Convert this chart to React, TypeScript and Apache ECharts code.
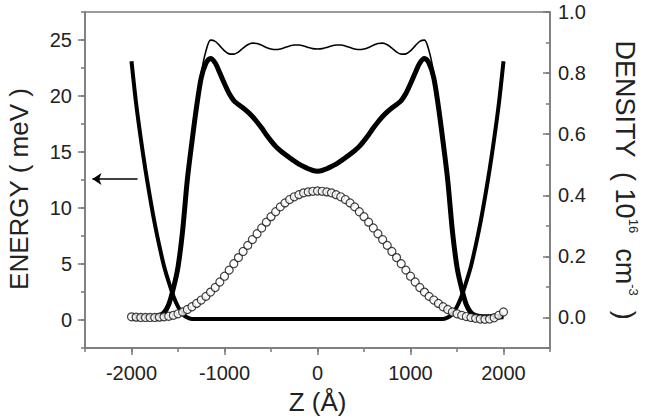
import React, { useEffect, useRef } from 'react';
import * as echarts from 'echarts';

// Z positions (Å) of the sampled points
const zGrid = [
  -2000, -1950, -1900, -1850, -1800, -1750, -1700, -1650, -1600, -1550,
  -1500, -1450, -1400, -1350, -1300, -1250, -1200, -1150, -1100, -1050,
  -1000, -950, -900, -850, -800, -750, -700, -650, -600, -550,
  -500, -450, -400, -350, -300, -250, -200, -150, -100, -50,
  0,
  50, 100, 150, 200, 250, 300, 350, 400, 450, 500,
  550, 600, 650, 700, 750, 800, 850, 900, 950, 1000,
  1050, 1100, 1150, 1200, 1250, 1300, 1350, 1400, 1450, 1500,
  1550, 1600, 1650, 1700, 1750, 1800, 1850, 1900, 1950, 2000,
];

// Open circles (density axis)
const nCircle = [
  0.002, 0.001, 0.0, 0.0, 0.0, 0.0, 0.001, 0.002, 0.004, 0.007,
  0.012, 0.018, 0.026, 0.035, 0.046, 0.057, 0.069, 0.083, 0.098, 0.116,
  0.135, 0.155, 0.176, 0.196, 0.216, 0.236, 0.255, 0.274, 0.293, 0.312,
  0.330, 0.346, 0.362, 0.375, 0.386, 0.395, 0.402, 0.408, 0.411, 0.413,
  0.414,
  0.413, 0.411, 0.408, 0.402, 0.395, 0.386, 0.375, 0.362, 0.346, 0.330,
  0.312, 0.293, 0.274, 0.255, 0.236, 0.216, 0.196, 0.176, 0.155, 0.135,
  0.116, 0.098, 0.083, 0.069, 0.057, 0.046, 0.035, 0.026, 0.018, 0.012,
  0.007, 0.003, 0.0, -0.003, -0.005, -0.006, -0.005, -0.001, 0.007, 0.018,
];

// Thick density curve (density axis)
const nThick = [
  0.002, 0.002, 0.002, 0.002, 0.002, 0.003, 0.006, 0.016, 0.042, 0.095,
  0.165, 0.285, 0.45, 0.575, 0.69, 0.785, 0.832, 0.848, 0.833, 0.80,
  0.765, 0.733, 0.71, 0.697, 0.686, 0.673, 0.658, 0.64, 0.62, 0.598,
  0.578, 0.56, 0.546, 0.534, 0.523, 0.512, 0.502, 0.494, 0.487, 0.481,
  0.479,
  0.481, 0.487, 0.494, 0.502, 0.512, 0.523, 0.534, 0.546, 0.56, 0.578,
  0.598, 0.62, 0.64, 0.658, 0.673, 0.686, 0.697, 0.71, 0.733, 0.765,
  0.80, 0.833, 0.848, 0.832, 0.785, 0.69, 0.575, 0.45, 0.285, 0.165,
  0.095, 0.042, 0.016, 0.006, 0.003, 0.002, 0.002, 0.002, 0.002, 0.002,
];

// Thin density curve (density axis)
const nThin = [
  0.002, 0.002, 0.002, 0.002, 0.002, 0.003, 0.006, 0.016, 0.042, 0.095,
  0.165, 0.285, 0.45, 0.575, 0.69, 0.80, 0.872, 0.908, 0.904, 0.889,
  0.873, 0.863, 0.862, 0.869, 0.882, 0.893, 0.898, 0.897, 0.891, 0.884,
  0.879, 0.877, 0.879, 0.884, 0.889, 0.892, 0.892, 0.889, 0.884, 0.880,
  0.879,
  0.880, 0.884, 0.889, 0.892, 0.892, 0.889, 0.884, 0.879, 0.877, 0.879,
  0.884, 0.891, 0.897, 0.898, 0.893, 0.882, 0.869, 0.862, 0.863, 0.873,
  0.889, 0.904, 0.908, 0.872, 0.80, 0.69, 0.575, 0.45, 0.285, 0.165,
  0.095, 0.042, 0.016, 0.006, 0.003, 0.002, 0.002, 0.002, 0.002, 0.002,
];

// Confining potential (energy axis, meV)
const ePotential = [
  23.1, 19.3, 16.2, 13.4, 10.9, 8.6, 6.6, 4.8, 3.4, 2.15,
  1.2, 0.55, 0.22, 0.1, 0.1, 0.1, 0.1, 0.1, 0.1, 0.1,
  0.1, 0.1, 0.1, 0.1, 0.1, 0.1, 0.1, 0.1, 0.1, 0.1,
  0.1, 0.1, 0.1, 0.1, 0.1, 0.1, 0.1, 0.1, 0.1, 0.1,
  0.1,
  0.1, 0.1, 0.1, 0.1, 0.1, 0.1, 0.1, 0.1, 0.1, 0.1,
  0.1, 0.1, 0.1, 0.1, 0.1, 0.1, 0.1, 0.1, 0.1, 0.1,
  0.1, 0.1, 0.1, 0.1, 0.1, 0.1, 0.1, 0.22, 0.55, 1.2,
  2.15, 3.4, 4.8, 6.6, 8.6, 10.9, 13.4, 16.2, 19.3, 23.1,
];

// Arrow marking the level on the energy axis
const arrowZ = [-1935, -2420];
const arrowE = [12.6, 12.6];

// Tick values
const zTicks = [-2000, -1000, 0, 1000, 2000];
const energyTicks = [0, 5, 10, 15, 20, 25];
const densityTicks = [0, 0.2, 0.4, 0.6, 0.8, 1.0];

const FONT = '"Liberation Sans", Arial, Helvetica, sans-serif';
const AXIS_COLOR = '#7a7a7a';
const LABEL_COLOR = '#222';

export default function App() {
  const ref = useRef<HTMLDivElement>(null);

  useEffect(() => {
    document.body.style.margin = '0';
    if (!ref.current) return;
    const chart = echarts.init(ref.current, undefined, { renderer: 'svg' });

    const pairs = (ys: number[]) => zGrid.map((z, i) => [z, ys[i]]);
    const lineAxis = { show: true, onZero: false, lineStyle: { color: AXIS_COLOR, width: 1.5 } };
    const noLine = { show: false, onZero: false };
    const tickStyle = { color: AXIS_COLOR, width: 1.5 };

    const option: any = {
      animation: false,
      backgroundColor: '#fff',
      textStyle: { fontFamily: FONT },
      grid: {
        left: 85,
        top: 12,
        width: 465,
        height: 336,
        show: true,
        borderColor: AXIS_COLOR,
        borderWidth: 1.5,
        backgroundColor: 'transparent',
        outerBoundsMode: 'none',
      },
      xAxis: [
        {
          type: 'value',
          min: -2500,
          max: 2500,
          position: 'bottom',
          axisLine: lineAxis,
          axisTick: { show: true, customValues: zTicks, length: 7, inside: false, lineStyle: tickStyle },
          axisLabel: {
            customValues: zTicks,
            fontSize: 20,
            color: LABEL_COLOR,
            margin: 15,
            fontFamily: FONT,
            formatter: (v: number) => String(v),
          },
          splitLine: { show: false },
          name: 'Z (Å)',
          nameLocation: 'middle',
          nameGap: 41,
          nameTextStyle: { fontSize: 26, color: LABEL_COLOR, fontFamily: FONT },
        },
        {
          type: 'value',
          min: -2500,
          max: 2500,
          interval: 500,
          position: 'bottom',
          axisLine: noLine,
          axisTick: { show: true, length: 4, inside: false, lineStyle: tickStyle },
          axisLabel: { show: false },
          splitLine: { show: false },
        },
      ],
      yAxis: [
        {
          type: 'value',
          min: -2.5,
          max: 27.5,
          position: 'left',
          axisLine: lineAxis,
          axisTick: { show: true, customValues: energyTicks, length: 7, inside: false, lineStyle: tickStyle },
          axisLabel: { customValues: energyTicks, fontSize: 20, color: LABEL_COLOR, margin: 13, fontFamily: FONT },
          splitLine: { show: false },
          name: 'ENERGY ( meV )',
          nameLocation: 'middle',
          nameRotate: 90,
          nameGap: 53,
          nameTextStyle: { fontSize: 26, color: LABEL_COLOR, fontFamily: FONT, padding: [0, 18, 0, 0] },
        },
        {
          type: 'value',
          min: -2.5,
          max: 27.5,
          interval: 2.5,
          position: 'left',
          axisLine: noLine,
          axisTick: { show: true, length: 4, inside: false, lineStyle: tickStyle },
          axisLabel: { show: false },
          splitLine: { show: false },
        },
        {
          type: 'value',
          min: -0.1,
          max: 1.0,
          position: 'right',
          axisLine: lineAxis,
          axisTick: { show: true, customValues: densityTicks, length: 7, inside: true, lineStyle: tickStyle },
          axisLabel: {
            customValues: densityTicks,
            fontSize: 20,
            color: LABEL_COLOR,
            margin: 8,
            fontFamily: FONT,
            formatter: (v: number) => v.toFixed(1),
          },
          splitLine: { show: false },
          name: '{a|DENSITY  ( 10}{s|16}{a|  cm}{s|-3}{a|  )}',
          nameLocation: 'middle',
          nameRotate: -90,
          nameGap: 60,
          nameTextStyle: {
            fontFamily: FONT,
            color: LABEL_COLOR,
            rich: {
              a: { fontSize: 27, fontFamily: FONT, color: LABEL_COLOR, lineHeight: 30 },
              s: { fontSize: 13, fontFamily: FONT, color: LABEL_COLOR, verticalAlign: 'top', lineHeight: 30, padding: [0, 0, 14, 0] },
            },
          },
        },
        {
          type: 'value',
          min: -0.1,
          max: 1.0,
          interval: 0.1,
          position: 'right',
          axisLine: noLine,
          axisTick: { show: true, length: 4, inside: true, lineStyle: tickStyle },
          axisLabel: { show: false },
          splitLine: { show: false },
        },
      ],
      series: [
        {
          name: 'potential',
          type: 'line',
          xAxisIndex: 0,
          yAxisIndex: 0,
          data: pairs(ePotential),
          showSymbol: false,
          smooth: 0.3,
          lineStyle: { color: '#000', width: 4 },
          z: 2,
          markLine: {
            silent: true,
            animation: false,
            symbol: ['none', 'arrow'],
            symbolSize: 9,
            label: { show: false },
            lineStyle: { color: '#000', width: 1.5, type: 'solid' },
            data: [[{ coord: [arrowZ[0], arrowE[0]] }, { coord: [arrowZ[1], arrowE[1]] }]],
          },
        },
        {
          name: 'thick',
          type: 'line',
          xAxisIndex: 0,
          yAxisIndex: 2,
          data: pairs(nThick),
          showSymbol: false,
          smooth: 0.3,
          lineStyle: { color: '#000', width: 5 },
          z: 3,
        },
        {
          name: 'thin',
          type: 'line',
          xAxisIndex: 0,
          yAxisIndex: 2,
          data: pairs(nThin),
          showSymbol: false,
          smooth: 0.3,
          lineStyle: { color: '#000', width: 1.6 },
          z: 3,
        },
        {
          name: 'circles',
          type: 'scatter',
          xAxisIndex: 0,
          yAxisIndex: 2,
          data: pairs(nCircle),
          symbol: 'circle',
          symbolSize: 8,
          itemStyle: { color: '#fff', borderColor: '#111', borderWidth: 1.2 },
          z: 4,
        },
      ],
    };

    chart.setOption(option);
    return () => {
      chart.dispose();
    };
  }, []);

  return <div ref={ref} style={{ width: 647, height: 417 }} />;
}
